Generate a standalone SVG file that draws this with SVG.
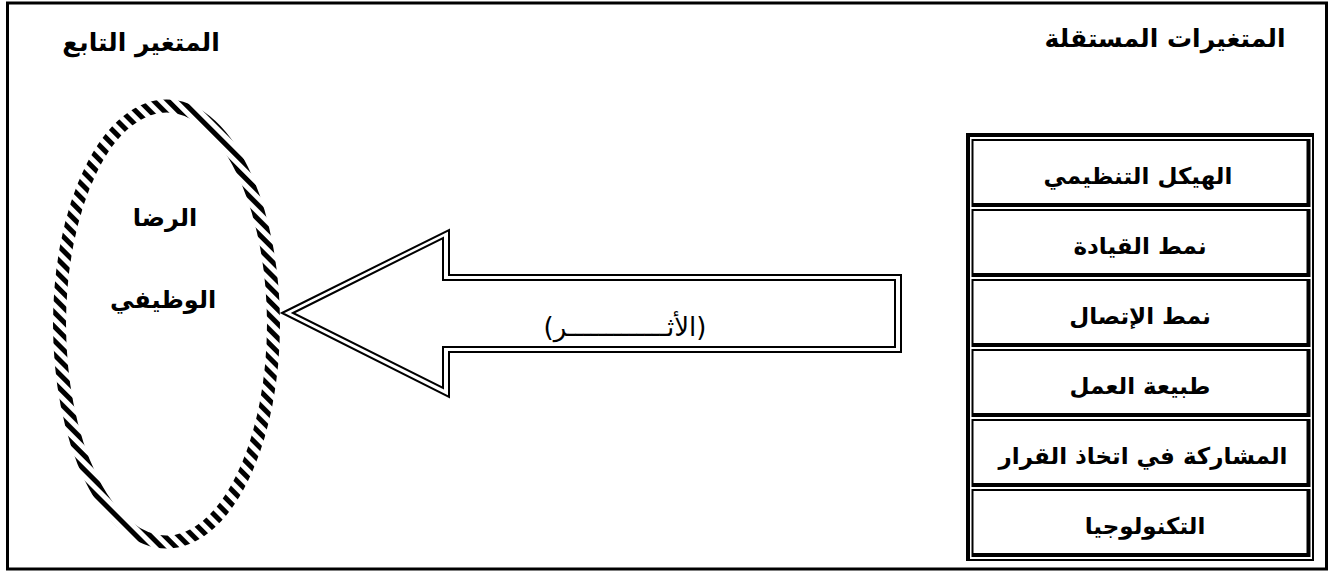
<svg xmlns="http://www.w3.org/2000/svg" width="1329" height="572" viewBox="0 0 1329 572">
<style>
.lbl{font-family:"DejaVu Sans",sans-serif;font-weight:bold;fill:#000;text-anchor:middle;direction:rtl}
.hdr{font-size:25px}
.cell{font-size:23px}
.ell{font-size:24px}
.arrtxt{font-family:"DejaVu Sans",sans-serif;font-size:26px;fill:#000;text-anchor:middle;direction:rtl}
.thin{stroke:#000;stroke-width:2;fill:none}
.thick{stroke:#000;stroke-width:4;fill:none}
</style>
<defs>
<pattern id="hatch" patternUnits="userSpaceOnUse" width="10" height="10" patternTransform="rotate(45)">
<rect width="10" height="10" fill="#fff"/>
<rect y="0" width="10" height="5" fill="#000"/>
</pattern>
</defs>
<rect width="1329" height="572" fill="#fff"/>
<rect id="frame" x="7.5" y="3" width="1319" height="566" fill="none" stroke="#000" stroke-width="3"/>

<text class="lbl hdr" x="141" y="51">المتغير التابع</text>
<text class="lbl hdr" x="1165" y="47">المتغيرات المستقلة</text>

<g id="dependent">
<ellipse cx="166.5" cy="324" rx="107" ry="218" fill="#fff" stroke="url(#hatch)" stroke-width="13"/>
<text class="lbl ell" x="165" y="226">الرضا</text>
<text class="lbl ell" x="163" y="308">الوظيفي</text>
</g>

<g id="connectors">
<polygon points="282,313 449,230 449,275 901,275 901,352 449,352 449,397" fill="#fff" stroke="#000" stroke-width="2"/>
<polygon points="293,313 443,238 443,280 895,280 895,347 443,347 443,388" fill="none" stroke="#000" stroke-width="2"/>
<text class="arrtxt" x="625" y="336">(الأثـــــــــــــر)</text>
</g>

<g id="independent">
<rect x="966" y="133" width="4" height="428" fill="#000"/>
<rect x="966" y="133" width="348" height="4" fill="#000"/>
<rect x="1312" y="133" width="2" height="428" fill="#000"/>
<rect x="966" y="559" width="348" height="2" fill="#000"/>
<g id="row1">
<path class="thin" d="M972,140H1310M972.5,139V207"/><path class="thick" d="M972,205H1310M1308.5,139V207"/>
<text class="lbl cell" x="1138" y="184">الهيكل التنظيمي</text>
</g>
<g id="row2" transform="translate(0,70)">
<path class="thin" d="M972,140H1310M972.5,139V207"/><path class="thick" d="M972,205H1310M1308.5,139V207"/>
<text class="lbl cell" x="1140" y="184">نمط القيادة</text>
</g>
<g id="row3" transform="translate(0,140)">
<path class="thin" d="M972,140H1310M972.5,139V207"/><path class="thick" d="M972,205H1310M1308.5,139V207"/>
<text class="lbl cell" x="1140" y="184">نمط الإتصال</text>
</g>
<g id="row4" transform="translate(0,210)">
<path class="thin" d="M972,140H1310M972.5,139V207"/><path class="thick" d="M972,205H1310M1308.5,139V207"/>
<text class="lbl cell" x="1140" y="184">طبيعة العمل</text>
</g>
<g id="row5" transform="translate(0,280)">
<path class="thin" d="M972,140H1310M972.5,139V207"/><path class="thick" d="M972,205H1310M1308.5,139V207"/>
<text class="lbl cell" x="1143" y="184">المشاركة في اتخاذ القرار</text>
</g>
<g id="row6" transform="translate(0,350)">
<path class="thin" d="M972,140H1310M972.5,139V207"/><path class="thick" d="M972,205H1310M1308.5,139V207"/>
<text class="lbl cell" x="1145" y="184">التكنولوجيا</text>
</g>
</g>
</svg>
